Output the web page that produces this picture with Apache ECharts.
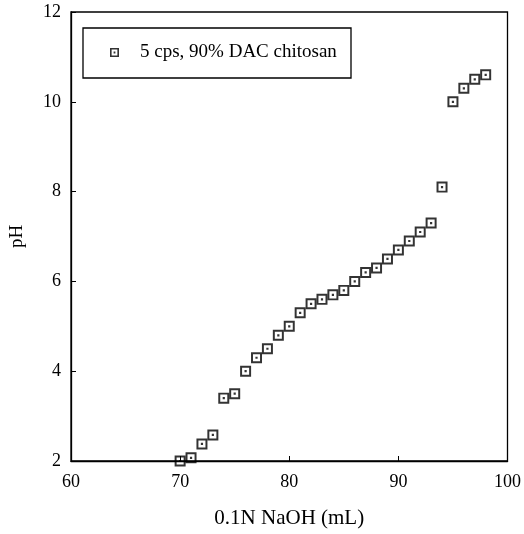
<!DOCTYPE html>
<html lang="en">
<head>
	<meta charset="UTF-8">
	<title>pH titration</title>
	<script src="https://cdn.jsdelivr.net/npm/echarts@6/dist/echarts.min.js"></script>
	<style>
		html, body { margin: 0; padding: 0; background: #fff; }
	</style>
</head>
<body>
	<div id="main" style="width: 524px; height: 534px;"></div>
	<script type="text/javascript">
	// NaOH volume (mL) and measured pH
	var naoh = [70, 71, 72, 73, 74, 75, 76, 77, 78, 79, 80, 81, 82, 83, 84,
		85, 86, 87, 88, 89, 90, 91, 92, 93, 94, 95, 96, 97, 98];
	var ph = [2.0, 2.07, 2.38, 2.58, 3.4, 3.5, 4.0, 4.3, 4.5, 4.8, 5.0, 5.3, 5.5, 5.6, 5.7,
		5.8, 6.0, 6.2, 6.3, 6.5, 6.7, 6.9, 7.1, 7.3, 8.1, 10.0, 10.3, 10.5, 10.6];
	var seriesName = '5 cps, 90% DAC chitosan';

	var points = [];
	for (var i = 0; i < naoh.length; i++) {
		points.push([naoh[i], ph[i]]);
	}

	// hollow square with a dot in the middle
	var boxDot = 'path://M0,0H10V10H0Z M1.8,1.8V8.2H8.2V1.8Z M4,4H6V6H4Z';
	var font = 'Liberation Serif';

	var chart = echarts.init(document.getElementById('main'));
	var option = {
		animation: false,
		backgroundColor: '#fff',
		textStyle: { fontFamily: font },
		grid: {
			left: 68, right: 14, top: 12, bottom: 71,
			show: true, borderColor: '#000', borderWidth: 1.3
		},
		legend: {
			left: 110, top: 43, padding: 0,
			itemWidth: 9, itemHeight: 9,
			textStyle: { fontFamily: font, fontSize: 19, color: '#000', padding: [0, 0, 0, 16] },
			data: [{ name: seriesName, icon: boxDot }]
		},
		graphic: [{
			type: 'rect',
			shape: { x: 83, y: 28, width: 268, height: 50 },
			style: { fill: 'none', stroke: '#000', lineWidth: 1.3 },
			z: 10
		}],
		xAxis: {
			type: 'value',
			min: 60, max: 100, interval: 10,
			name: '0.1N NaOH (mL)',
			nameLocation: 'middle',
			nameGap: 47,
			nameTextStyle: { fontFamily: font, fontSize: 21, color: '#000' },
			axisLine: { lineStyle: { color: '#000', width: 1.3 } },
			axisTick: { inside: true, length: 5, lineStyle: { color: '#000' } },
			axisLabel: { fontFamily: font, fontSize: 18, color: '#000', margin: 12 },
			splitLine: { show: false }
		},
		yAxis: {
			type: 'value',
			min: 2, max: 12, interval: 2,
			name: 'pH',
			nameLocation: 'middle',
			nameGap: 44,
			nameTextStyle: { fontFamily: font, fontSize: 19, color: '#000' },
			axisLine: { lineStyle: { color: '#000', width: 1.3 } },
			axisTick: { inside: true, length: 5, lineStyle: { color: '#000' } },
			axisLabel: { fontFamily: font, fontSize: 18, color: '#000', margin: 10 },
			splitLine: { show: false }
		},
		series: [{
			name: seriesName,
			type: 'scatter',
			symbol: boxDot,
			symbolSize: 11,
			itemStyle: { color: '#000' },
			data: points
		}]
	};
	chart.setOption(option);
	</script>
</body>
</html>
